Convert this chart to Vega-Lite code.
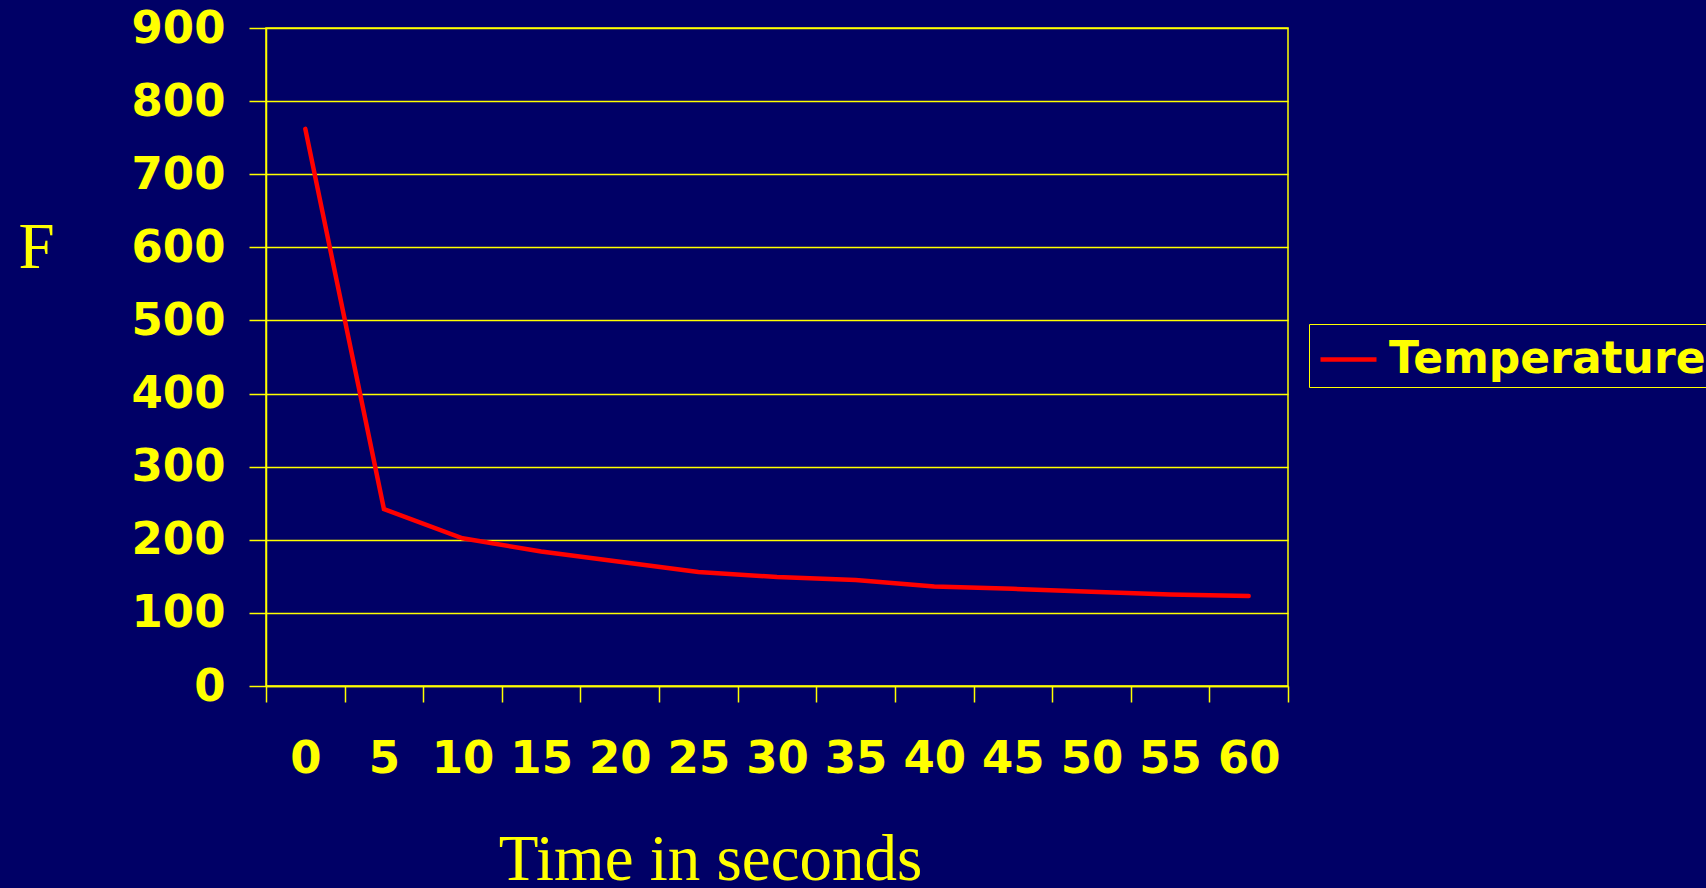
{
  "$schema": "https://vega.github.io/schema/vega-lite/v6.json",
  "width": 1022,
  "height": 658,
  "autosize": {"type": "none"},
  "padding": {"left": 266, "top": 28, "right": 418, "bottom": 202},
  "background": "#000066",
  "config": {
    "view": {"stroke": "#FFFF00", "strokeWidth": 1.5, "fill": "#000066"}
  },
  "data": {
    "values": [
      {"time": 0, "temp": 762, "series": "Temperature"},
      {"time": 5, "temp": 242, "series": "Temperature"},
      {"time": 10, "temp": 202, "series": "Temperature"},
      {"time": 15, "temp": 184, "series": "Temperature"},
      {"time": 20, "temp": 170, "series": "Temperature"},
      {"time": 25, "temp": 156, "series": "Temperature"},
      {"time": 30, "temp": 149, "series": "Temperature"},
      {"time": 35, "temp": 145, "series": "Temperature"},
      {"time": 40, "temp": 136, "series": "Temperature"},
      {"time": 45, "temp": 133, "series": "Temperature"},
      {"time": 50, "temp": 129, "series": "Temperature"},
      {"time": 55, "temp": 125, "series": "Temperature"},
      {"time": 60, "temp": 123, "series": "Temperature"}
    ]
  },
  "mark": {"type": "line", "strokeWidth": 4.5, "strokeCap": "round", "strokeJoin": "miter"},
  "encoding": {
    "x": {
      "field": "time",
      "type": "ordinal",
      "sort": null,
      "scale": {"type": "band", "paddingInner": 0, "paddingOuter": 0},
      "axis": {
        "title": "Time in seconds",
        "titleFont": "Liberation Serif",
        "titleFontSize": 65,
        "titleFontWeight": "normal",
        "titleColor": "#FFFF00",
        "titleX": 444,
        "titleY": 193,
        "titleAlign": "center",
        "titleBaseline": "alphabetic",
        "labelAngle": 0,
        "labelFont": "DejaVu Sans",
        "labelFontWeight": "bold",
        "labelFontSize": 45,
        "labelColor": "#FFFF00",
        "labelPadding": 34,
        "labelBaseline": "top",
        "tickBand": "extent",
        "tickSize": 16,
        "tickColor": "#FFFF00",
        "tickWidth": 1.5,
        "domainColor": "#FFFF00",
        "domainWidth": 1.5,
        "grid": false
      }
    },
    "y": {
      "field": "temp",
      "type": "quantitative",
      "scale": {"domain": [0, 900], "nice": false, "zero": true},
      "axis": {
        "title": "F",
        "titleFont": "Liberation Serif",
        "titleFontSize": 65,
        "titleFontWeight": "normal",
        "titleColor": "#FFFF00",
        "titleAngle": 0,
        "titleX": -230,
        "titleY": 239,
        "titleAlign": "center",
        "titleBaseline": "alphabetic",
        "values": [0, 100, 200, 300, 400, 500, 600, 700, 800, 900],
        "labelFont": "DejaVu Sans",
        "labelFontWeight": "bold",
        "labelFontSize": 45,
        "labelColor": "#FFFF00",
        "labelPadding": 24,
        "labelBaseline": "middle",
        "tickSize": 17,
        "tickColor": "#FFFF00",
        "tickWidth": 1.5,
        "domainColor": "#FFFF00",
        "domainWidth": 1.5,
        "grid": true,
        "gridColor": "#FFFF00",
        "gridWidth": 1.5
      }
    },
    "color": {
      "field": "series",
      "type": "nominal",
      "scale": {"range": ["#FF0000"]},
      "legend": {
        "title": null,
        "orient": "none",
        "legendX": 1043,
        "legendY": 296,
        "padding": 5,
        "strokeColor": "#FFFF00",
        "fillColor": "#000066",
        "symbolType": "stroke",
        "symbolSize": 3136,
        "symbolStrokeWidth": 4.5,
        "symbolStrokeColor": "#FF0000",
        "symbolOffset": 4,
        "labelFont": "DejaVu Sans",
        "labelFontWeight": "bold",
        "labelFontSize": 44,
        "labelColor": "#FFFF00",
        "labelLimit": 1000,
        "labelOffset": 10
      }
    }
  }
}
